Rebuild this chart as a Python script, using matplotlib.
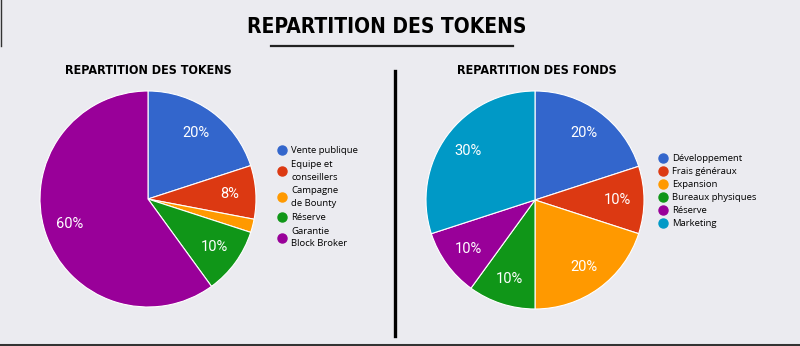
import matplotlib.pyplot as plt
from matplotlib.lines import Line2D

W, H = 800, 346
bg = '#ebebf0'

# données
tokens_labels = ['Vente publique', 'Equipe et\nconseillers', 'Campagne\nde Bounty', 'Réserve', 'Garantie\nBlock Broker']
tokens_values = [20, 8, 2, 10, 60]
tokens_colors = ['#3366cc', '#dc3912', '#ff9900', '#109618', '#990099']

fonds_labels = ['Développement', 'Frais généraux', 'Expansion', 'Bureaux physiques', 'Réserve', 'Marketing']
fonds_values = [20, 10, 20, 10, 10, 30]
fonds_colors = ['#3366cc', '#dc3912', '#ff9900', '#109618', '#990099', '#0099c6']

fig = plt.figure(figsize=(W / 100, H / 100), dpi=100, facecolor=bg)


def px_axes(cx, cy, r):
    return fig.add_axes([(cx - r) / W, (H - cy - r) / H, 2 * r / W, 2 * r / H])


def pie(ax, values, colors):
    ax.pie(values, colors=colors, startangle=90, counterclock=False, radius=1,
           wedgeprops=dict(edgecolor='white', linewidth=0.8),
           autopct=lambda p: '%d%%' % round(p) if p >= 5 else '',
           pctdistance=0.76,
           textprops=dict(color='white', fontsize=10.5, family='Roboto'))
    ax.set_xlim(-1, 1)
    ax.set_ylim(-1, 1)
    ax.set_aspect('equal')
    ax.axis('off')


def legend(labels, colors, x, y, spacing):
    handles = [Line2D([], [], marker='o', ls='', markersize=6.5, markerfacecolor=c, markeredgecolor=c)
               for c in colors]
    leg = fig.legend(handles, labels, loc='upper left', bbox_to_anchor=(x / W, 1 - y / H),
                     frameon=False, prop=dict(family='Open Sans', size=6.8),
                     handlelength=0.8, handletextpad=0.6, labelspacing=spacing, borderpad=0, borderaxespad=0)
    for t in leg.get_texts():
        t.set_linespacing(1.55)


ax1 = px_axes(148, 199, 108)
pie(ax1, tokens_values, tokens_colors)
legend(tokens_labels, tokens_colors, 278, 146, 0.5)

ax2 = px_axes(535, 200, 109)
pie(ax2, fonds_values, fonds_colors)
legend(fonds_labels, fonds_colors, 659, 154, 0.42)

title_font = ['DejaVu Sans']
fig.text(387 / W, 1 - 27 / H, 'REPARTITION DES TOKENS', ha='center', va='center',
         fontsize=15, fontweight='bold', family=title_font, fontstretch='condensed')
fig.add_artist(Line2D([271 / W, 513 / W], [1 - 46 / H, 1 - 46 / H], color='#222222', lw=1.6))
fig.text(148 / W, 1 - 70 / H, 'REPARTITION DES TOKENS', ha='center', va='center',
         fontsize=9, fontweight='bold', family=title_font, fontstretch='condensed')
fig.text(537 / W, 1 - 70 / H, 'REPARTITION DES FONDS', ha='center', va='center',
         fontsize=9, fontweight='bold', family=title_font, fontstretch='condensed')

# séparateur et bordures
fig.add_artist(Line2D([395 / W, 395 / W], [1 - 71 / H, 1 - 336 / H], color='black', lw=2.4))
fig.add_artist(Line2D([0, 1], [1.5 / H, 1.5 / H], color='#333333', lw=2.2))
fig.add_artist(Line2D([0.6 / W, 0.6 / W], [1, 1 - 46 / H], color='#333333', lw=1))

fig.savefig('out.png', dpi=100, facecolor=bg)
